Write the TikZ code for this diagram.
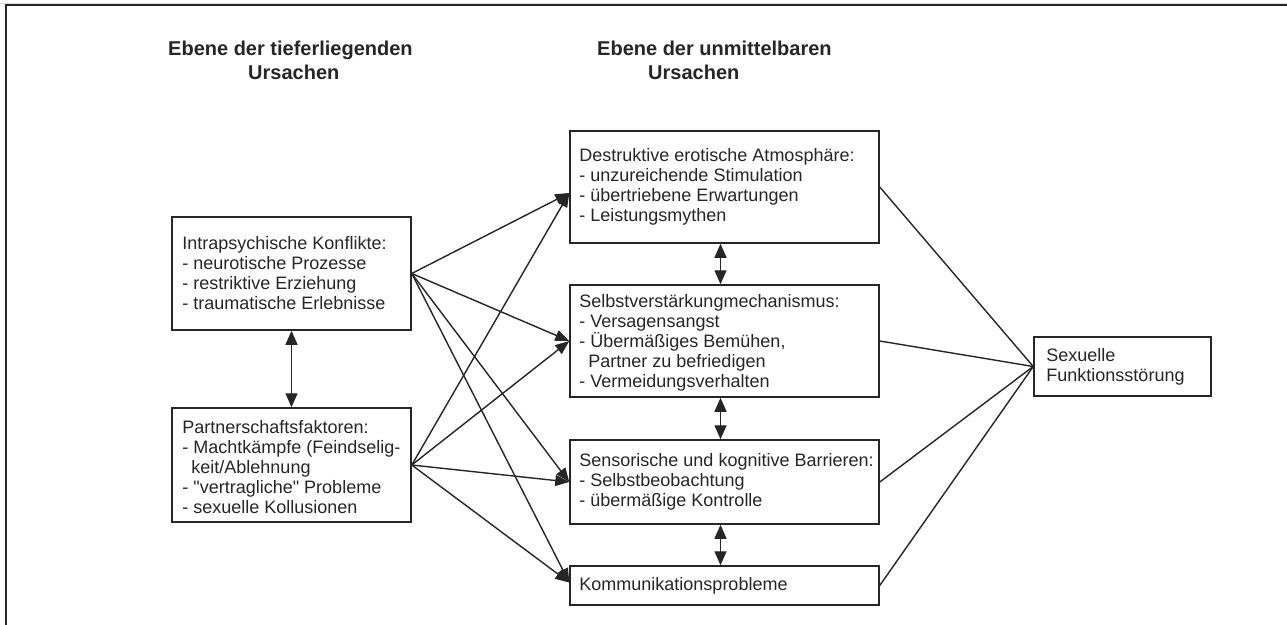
\documentclass[tikz,border=0pt]{standalone}
\usepackage{fontspec}
\setmainfont{Liberation Sans}
\newfontfamily\plainquote{Liberation Sans}
\usetikzlibrary{arrows.meta}
\begin{document}
\begin{tikzpicture}[x=1pt,y=-1pt,
  box/.style={draw=black!85, line width=1.5pt, inner sep=0pt, anchor=center},
  txt/.style={align=left, inner sep=0pt, anchor=west, text=black!85,
    font=\fontsize{18}{20}\selectfont},
  conn/.style={draw=black!85, line width=1.4pt},
  tip/.style={-{Triangle[length=14pt,width=11pt]}},
  dtip/.style={{Triangle[length=14pt,width=12pt]}-{Triangle[length=14pt,width=12pt]}},
  title/.style={font=\bfseries\fontsize{20}{24}\selectfont, anchor=base west, inner sep=0pt, text=black!85}]
\useasboundingbox (0,0) rectangle (1287,624);
\clip (0,0) rectangle (1287,624);
\fill[white] (0,0) rectangle (1287,624);
% frame
\draw[black!15, line width=1pt] (0,3) -- (1300,3);
\draw[black!85, line width=2pt] (6,700) -- (6,5) -- (1300,5);

% titles
\node[title] (t1a) at (168,55) {Ebene der tieferliegenden};
\node[title] (t1b) at (248,79) {Ursachen};
\node[title] (t2a) at (597,55) {Ebene der unmittelbaren};
\node[title] (t2b) at (648,79) {Ursachen};

% left boxes
\node[box, minimum width=239pt, minimum height=113pt] (intra) at (291.5,273.5) {};
\node[txt] (intraT) at ([xshift=11pt]intra.west)
  {Intrapsychische Konflikte:\\- neurotische Prozesse\\- restriktive Erziehung\\- traumatische Erlebnisse};
\node[box, minimum width=239pt, minimum height=114pt] (partner) at (291.5,465) {};
\node[txt] (partnerT) at ([xshift=11pt,yshift=-2pt]partner.west)
  {Partnerschaftsfaktoren:\\- Machtkämpfe (Feindselig-\\\hspace*{9pt}keit/Ablehnung\\- {\plainquote"}vertragliche{\plainquote"} Probleme\\- sexuelle Kollusionen};

% middle boxes
\node[box, minimum width=309pt, minimum height=112pt] (destr) at (724.5,187) {};
\node[txt] (destrT) at ([xshift=10pt]destr.west)
  {Destruktive erotische Atmosphäre:\\- unzureichende Stimulation\\- übertriebene Erwartungen\\- Leistungsmythen};
\node[box, minimum width=309pt, minimum height=112pt] (selbst) at (724.5,341) {};
\node[txt] (selbstT) at ([xshift=10pt,yshift=-2pt]selbst.west)
  {Selbstverstärkungmechanismus:\\- Versagensangst\\- Übermäßiges Bemühen,\\\hspace*{9pt}Partner zu befriedigen\\- Vermeidungsverhalten};
\node[box, minimum width=309pt, minimum height=84pt] (sens) at (724.5,482) {};
\node[txt] (sensT) at ([xshift=10pt]sens.west)
  {Sensorische und kognitive Barrieren:\\- Selbstbeobachtung\\- übermäßige Kontrolle};
\node[box, minimum width=309pt, minimum height=39pt] (komm) at (724.5,585.5) {};
\node[txt] (kommT) at ([xshift=10pt]komm.west) {Kommunikationsprobleme};

% right box
\node[box, minimum width=177pt, minimum height=59pt] (sex) at (1122.5,366.5) {};
\node[txt] (sexT) at ([xshift=13pt]sex.west) {Sexuelle\\Funktionsstörung};

% vertical double arrows
\draw[conn, dtip] (intra.south) -- (partner.north);
\draw[conn, dtip] ([xshift=-4pt]destr.south) -- ([xshift=-4pt]selbst.north);
\draw[conn, dtip] ([xshift=-4pt]selbst.south) -- ([xshift=-4pt]sens.north);
\draw[conn, dtip] ([xshift=-4pt]sens.south) -- ([xshift=-4pt]komm.north);

% left to middle
\coordinate (dIn) at ([yshift=-6pt]destr.west);
\coordinate (kIn) at ([yshift=3pt]komm.west);
\draw[conn, tip] (intra.east) -- (dIn);
\draw[conn, tip] (intra.east) -- (selbst.west);
\draw[conn, tip] (intra.east) -- (sens.west);
\draw[conn, tip] (intra.east) -- (kIn);
\draw[conn, tip] (partner.east) -- (dIn);
\draw[conn, tip] (partner.east) -- (selbst.west);
\draw[conn, tip] (partner.east) -- (sens.west);
\draw[conn, tip] (partner.east) -- (kIn);

% middle to right
\draw[conn] (destr.east) -- (sex.west);
\draw[conn] (selbst.east) -- (sex.west);
\draw[conn] (sens.east) -- (sex.west);
\draw[conn] (komm.east) -- (sex.west);
\end{tikzpicture}
\end{document}
